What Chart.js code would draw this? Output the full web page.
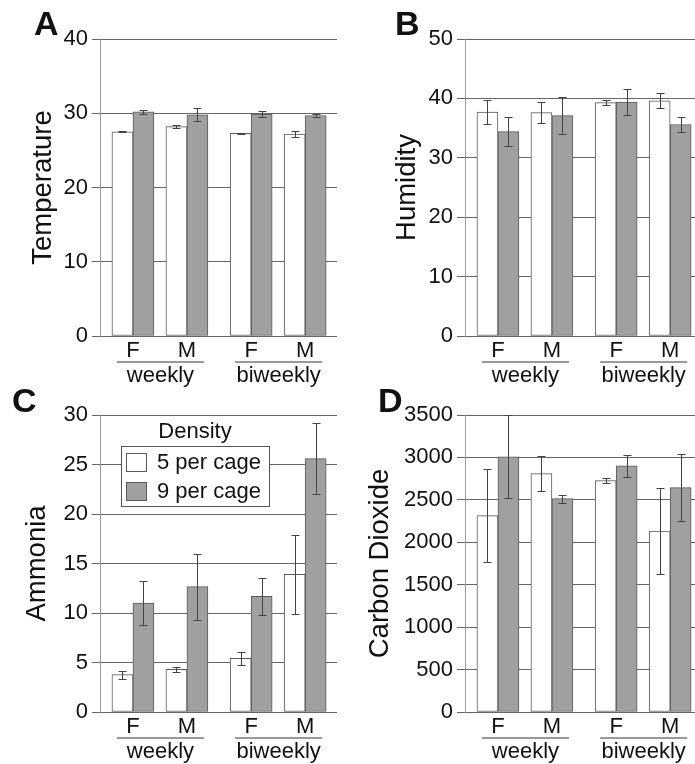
<!DOCTYPE html>
<html>
<head>
<meta charset="utf-8">
<script src="https://cdn.jsdelivr.net/npm/chart.js@4.4.0/dist/chart.umd.min.js"></script>
<style>
  html, body { margin: 0; padding: 0; background: #fff; overflow: hidden; }
  #wrap { position: relative; width: 695px; height: 764px; overflow: hidden; }
  canvas { position: absolute; }
</style>
</head>
<body>
<div id="wrap">
  <canvas id="chartA" width="345" height="392" style="left:0;top:0"></canvas>
  <canvas id="chartB" width="365" height="392" style="left:345px;top:0"></canvas>
  <canvas id="chartC" width="345" height="384" style="left:0;top:380px"></canvas>
  <canvas id="chartD" width="365" height="384" style="left:345px;top:380px"></canvas>
</div>
<script>
// categories
const sexLabels = ["F", "M", "F", "M"];
const groups = ["weekly", "biweekly"];
const seriesNames = ["5 per cage", "9 per cage"];

// A - temperature (mean, error)
const temp5 = [27.5, 28.2, 27.3, 27.2];
const temp5Err = [0.05, 0.2, 0.05, 0.4];
const temp9 = [30.2, 29.8, 29.9, 29.7];
const temp9Err = [0.3, 0.85, 0.4, 0.25];

// B - humidity
const hum5 = [37.7, 37.6, 39.3, 39.6];
const hum5Err = [2.05, 1.8, 0.45, 1.3];
const hum9 = [34.4, 37.1, 39.4, 35.6];
const hum9Err = [2.4, 3.1, 2.2, 1.25];

// C - ammonia
const nh5 = [3.77, 4.31, 5.42, 13.9];
const nh5Err = [0.39, 0.24, 0.67, 4.0];
const nh9 = [11.0, 12.66, 11.68, 25.6];
const nh9Err = [2.24, 3.33, 1.9, 3.6];

// D - carbon dioxide
const co5 = [2315, 2810, 2727, 2131];
const co5Err = [545, 206, 31, 506];
const co9 = [3006, 2515, 2900, 2645];
const co9Err = [490, 47, 131, 392];

const FONT = '"Liberation Sans", Arial, Helvetica, sans-serif';
Chart.defaults.font.family = FONT;
Chart.defaults.color = "#111";

// slot positions on the x scale: a little extra gap between the two groups
const slotX = sexLabels.map((_, i) => i + Math.floor(i / 2) * 0.19);

const errorBars = {
  id: "errorBars",
  afterDatasetsDraw(chart) {
    const ctx = chart.ctx, ys = chart.scales.y;
    ctx.save();
    ctx.strokeStyle = "#444";
    ctx.lineWidth = 1;
    chart.data.datasets.forEach((ds, di) => {
      chart.getDatasetMeta(di).data.forEach((bar, i) => {
        const v = ds.data[i].y, e = ds.errors[i];
        const x = Math.round(bar.x) + 0.5;
        const top = Math.round(ys.getPixelForValue(v + e)) + 0.5;
        const bot = Math.round(ys.getPixelForValue(v - e)) + 0.5;
        ctx.beginPath();
        ctx.moveTo(x, top); ctx.lineTo(x, bot);
        ctx.moveTo(x - 4, top); ctx.lineTo(x + 4, top);
        ctx.moveTo(x - 4, bot); ctx.lineTo(x + 4, bot);
        ctx.stroke();
      });
    });
    ctx.restore();
  }
};

const extras = {
  id: "extras",
  afterDraw(chart, args, opts) {
    const ctx = chart.ctx, xs = chart.scales.x, area = chart.chartArea;
    const b = area.bottom;
    ctx.save();
    // group labels under the sex labels
    groups.forEach((g, gi) => {
      const x0 = xs.getPixelForValue(slotX[gi * 2]) - 16;
      const x1 = xs.getPixelForValue(slotX[gi * 2 + 1]) + 17;
      ctx.strokeStyle = "#777";
      ctx.lineWidth = 1.5;
      ctx.beginPath();
      ctx.moveTo(x0, b + 26); ctx.lineTo(x1, b + 26);
      ctx.stroke();
      ctx.fillStyle = "#111";
      ctx.font = "22px " + FONT;
      ctx.textAlign = "center";
      ctx.textBaseline = "alphabetic";
      ctx.fillText(g, (x0 + x1) / 2, b + 45.5);
    });
    // panel letter
    ctx.font = "bold 34px " + FONT;
    ctx.textAlign = "left";
    ctx.fillText(opts.letter, opts.letterX, opts.letterY);

    // legend (panel C)
    if (opts.legend) {
      const lx = area.left, ly = area.top;
      ctx.fillStyle = "#fff";
      ctx.fillRect(lx + 21, ly + 31, 148, 60);
      ctx.strokeStyle = "#555";
      ctx.lineWidth = 1;
      ctx.strokeRect(lx + 21.5, ly + 31.5, 148, 60);
      ctx.fillStyle = "#111";
      ctx.font = "22px " + FONT;
      ctx.textAlign = "center";
      ctx.textBaseline = "middle";
      ctx.fillText("Density", lx + 95, ly + 17);
      chart.data.datasets.forEach((ds, i) => {
        const sy = ly + 38 + i * 29;
        ctx.fillStyle = ds.backgroundColor;
        ctx.fillRect(lx + 26, sy, 21, 19);
        ctx.strokeStyle = ds.borderColor;
        ctx.strokeRect(lx + 26.5, sy + 0.5, 20, 18);
        ctx.fillStyle = "#111";
        ctx.textAlign = "left";
        ctx.fillText(ds.label, lx + 57, sy + 10);
      });
    }
    ctx.restore();
  }
};

function makePanel(id, cfg) {
  new Chart(document.getElementById(id), {
    type: "bar",
    data: {
      datasets: [
        { label: seriesNames[0], data: slotX.map((x, i) => ({ x, y: cfg.d5[i] })), errors: cfg.e5,
          backgroundColor: "#ffffff", borderColor: "#5a5a5a", borderWidth: 1, borderSkipped: false, barThickness: 21 },
        { label: seriesNames[1], data: slotX.map((x, i) => ({ x, y: cfg.d9[i] })), errors: cfg.e9,
          backgroundColor: "#a0a0a0", borderColor: "#5a5a5a", borderWidth: 1, borderSkipped: false, barThickness: 21 }
      ]
    },
    options: {
      responsive: false,
      animation: false,
      devicePixelRatio: 1,
      layout: { padding: { left: 0, top: cfg.top, right: 8, bottom: 0 } },
      plugins: {
        legend: { display: false },
        tooltip: { enabled: false },
        extras: { letter: cfg.letter, letterX: cfg.letterX, letterY: cfg.letterY, legend: !!cfg.legend }
      },
      scales: {
        x: {
          type: "linear",
          offset: false,
          min: -0.61,
          max: 3.78,
          afterBuildTicks(s) { s.ticks = slotX.map(v => ({ value: v })); },
          ticks: { callback: (v, i) => sexLabels[i], autoSkip: false, maxRotation: 0, font: { size: 22 }, padding: 2 },
          grid: { display: false, drawTicks: false },
          border: { display: false },
          afterFit(s) { s.height = cfg.xHeight; }
        },
        y: {
          min: 0,
          max: cfg.yMax,
          ticks: { stepSize: cfg.yStep, font: { size: 22 }, padding: 4, callback: v => String(v) },
          grid: { color: "#666", lineWidth: 1, tickLength: 8 },
          border: { display: true, color: "#999", width: 1 },
          title: { display: true, text: cfg.title, font: { size: 27.5, lineHeight: 1 }, padding: { top: cfg.titlePad, bottom: 0 } },
          afterFit(s) { s.width = cfg.yWidth; }
        }
      }
    },
    plugins: [errorBars, extras]
  });
}

makePanel("chartA", { d5: temp5, e5: temp5Err, d9: temp9, e9: temp9Err, yMax: 40, yStep: 10,
  title: "Temperature", titlePad: 30, yWidth: 100, top: 39, xHeight: 56, letter: "A", letterX: 34, letterY: 35 });
makePanel("chartB", { d5: hum5, e5: hum5Err, d9: hum9, e9: hum9Err, yMax: 50, yStep: 10,
  title: "Humidity", titlePad: 49, yWidth: 120, top: 39, xHeight: 56, letter: "B", letterX: 50, letterY: 35 });
makePanel("chartC", { d5: nh5, e5: nh5Err, d9: nh9, e9: nh9Err, yMax: 30, yStep: 5,
  title: "Ammonia", titlePad: 24, yWidth: 100, top: 35, xHeight: 52, letter: "C", letterX: 12, letterY: 32, legend: true });
makePanel("chartD", { d5: co5, e5: co5Err, d9: co9, e9: co9Err, yMax: 3500, yStep: 500,
  title: "Carbon Dioxide", titlePad: 22, yWidth: 120, top: 35, xHeight: 52, letter: "D", letterX: 33, letterY: 32 });
</script>
</body>
</html>
